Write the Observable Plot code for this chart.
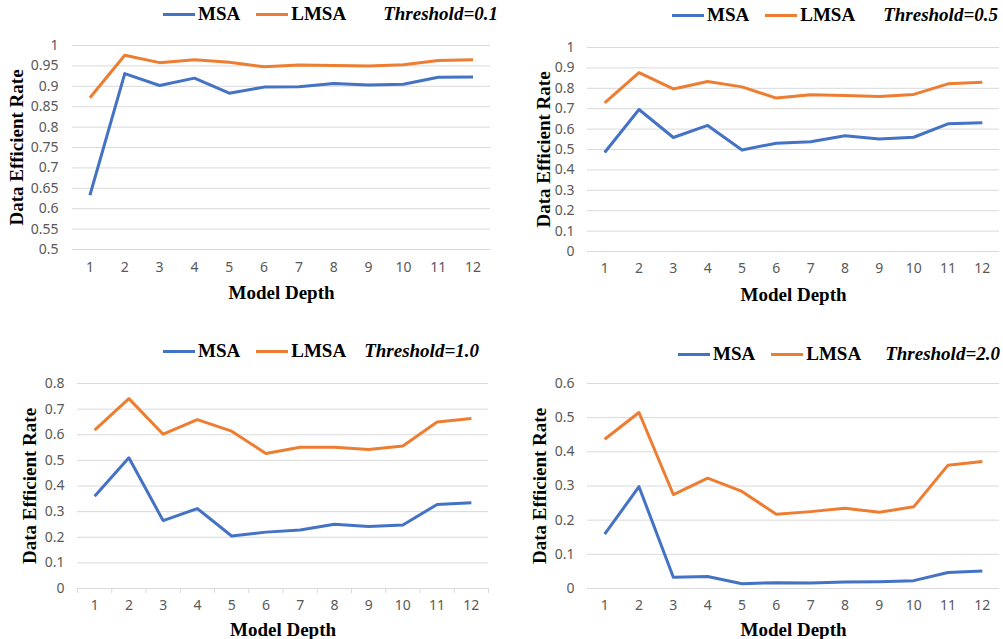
<!DOCTYPE html>
<html>
<head>
<meta charset="utf-8">
<script src="https://cdn.jsdelivr.net/npm/d3@7"></script>
<script src="https://cdn.jsdelivr.net/npm/@observablehq/plot@0.6"></script>
<style>
  html, body { margin: 0; padding: 0; background: #fff; }
  #root { position: relative; width: 1003px; height: 639px; overflow: hidden; background: #fff; }
  .panel { position: absolute; }
  .panel svg { position: absolute; left: 0; overflow: visible; }
  .legend { position: absolute; display: flex; align-items: center; height: 24px; line-height: 24px;
            font: bold 19px "Liberation Serif", "Times New Roman", serif; color: #000; white-space: nowrap; }
  .legend .sw { display: inline-block; width: 32px; height: 3px; margin-right: 3px; }
  .legend .thr { font-style: italic; }
  svg g[aria-label="y-axis label"] text, svg g[aria-label="x-axis label"] text {
    font: bold 19px "Liberation Serif", "Times New Roman", serif; fill: #000;
  }
  svg g[aria-label="y-axis tick label"], svg g[aria-label="x-axis tick label"] {
    font-family: "Noto Sans", "Liberation Sans", sans-serif; font-size: 14px; fill: #595959;
  }
</style>
</head>
<body>
<div id="root"></div>
<script>
// ---- data ----
const depths = [1, 2, 3, 4, 5, 6, 7, 8, 9, 10, 11, 12];
const seriesNames = ["MSA", "LMSA"];
const seriesColors = ["#4472C4", "#ED7D31"];
const thresholds = ["0.1", "0.5", "1.0", "2.0"];

const msa01  = [0.633, 0.931, 0.902, 0.920, 0.883, 0.898, 0.899, 0.907, 0.903, 0.905, 0.922, 0.923];
const lmsa01 = [0.872, 0.976, 0.958, 0.965, 0.959, 0.948, 0.952, 0.951, 0.950, 0.953, 0.963, 0.965];
const msa05  = [0.485, 0.696, 0.559, 0.618, 0.498, 0.531, 0.538, 0.567, 0.552, 0.560, 0.626, 0.631];
const lmsa05 = [0.729, 0.877, 0.797, 0.833, 0.807, 0.752, 0.768, 0.765, 0.760, 0.770, 0.822, 0.830];
const msa10  = [0.360, 0.510, 0.265, 0.312, 0.205, 0.220, 0.228, 0.251, 0.242, 0.248, 0.328, 0.335];
const lmsa10 = [0.618, 0.741, 0.602, 0.659, 0.614, 0.527, 0.551, 0.551, 0.542, 0.556, 0.650, 0.663];
const msa20  = [0.159, 0.298, 0.033, 0.035, 0.014, 0.017, 0.016, 0.019, 0.020, 0.023, 0.047, 0.051];
const lmsa20 = [0.437, 0.515, 0.275, 0.323, 0.284, 0.217, 0.225, 0.235, 0.223, 0.239, 0.361, 0.372];

const yTicks01 = [0.5, 0.55, 0.6, 0.65, 0.7, 0.75, 0.8, 0.85, 0.9, 0.95, 1];
const yTicks05 = [0, 0.1, 0.2, 0.3, 0.4, 0.5, 0.6, 0.7, 0.8, 0.9, 1];
const yTicks10 = [0, 0.1, 0.2, 0.3, 0.4, 0.5, 0.6, 0.7, 0.8];
const yTicks20 = [0, 0.1, 0.2, 0.3, 0.4, 0.5, 0.6];

// ---- layout ----
const panels = [
  {msa: msa01, lmsa: lmsa01, ticks: yTicks01, thr: thresholds[0], left: 0, top: 0, svgTop: 30,
   width: 500, height: 275, mt: 15, mb: 56, ml: 72, mr: 10, ylo: 63, xlo: 49, xtp: 13, ytp: 14,
   legLeft: 163, legTop: 2, thrGap: 37, axisTicks: false},
  {msa: msa05, lmsa: lmsa05, ticks: yTicks05, thr: thresholds[1], left: 500, top: 0, svgTop: 30,
   width: 503, height: 280, mt: 17, mb: 59, ml: 87, mr: 4, ylo: 51, xlo: 49, xtp: 12, ytp: 13,
   legLeft: 172, legTop: 3, thrGap: 28, axisTicks: false},
  {msa: msa10, lmsa: lmsa10, ticks: yTicks10, thr: thresholds[2], left: 0, top: 320, svgTop: 45,
   width: 500, height: 274, mt: 18, mb: 51, ml: 77, mr: 12, ylo: 55, xlo: 47, xtp: 12, ytp: 13,
   legLeft: 163, legTop: 19, thrGap: 18, axisTicks: true},
  {msa: msa20, lmsa: lmsa20, ticks: yTicks20, thr: thresholds[3], left: 500, top: 320, svgTop: 45,
   width: 503, height: 274, mt: 18, mb: 51, ml: 87, mr: 4, ylo: 55, xlo: 47, xtp: 12, ytp: 13,
   legLeft: 178, legTop: 22, thrGap: 24, axisTicks: false}
];

const fmt = d => String(+d.toFixed(2));
const root = document.getElementById("root");

for (const p of panels) {
  const div = document.createElement("div");
  div.className = "panel";
  div.style.left = p.left + "px";
  div.style.top = p.top + "px";
  div.style.width = p.width + "px";
  div.style.height = (p.svgTop + p.height) + "px";

  // legend (HTML, above the svg)
  const leg = document.createElement("div");
  leg.className = "legend";
  leg.style.left = p.legLeft + "px";
  leg.style.top = p.legTop + "px";
  seriesNames.forEach((name, i) => {
    const item = document.createElement("span");
    item.style.display = "inline-flex";
    item.style.alignItems = "center";
    if (i > 0) item.style.marginLeft = "16px";
    const sw = document.createElement("span");
    sw.className = "sw";
    sw.style.background = seriesColors[i];
    const tx = document.createElement("span");
    tx.textContent = name;
    item.appendChild(sw); item.appendChild(tx);
    leg.appendChild(item);
  });
  const thr = document.createElement("span");
  thr.className = "thr";
  thr.style.marginLeft = p.thrGap + "px";
  thr.textContent = "Threshold=" + p.thr;
  leg.appendChild(thr);
  div.appendChild(leg);

  const rows = depths.flatMap((d, i) => [
    {depth: d, series: seriesNames[0], value: p.msa[i]},
    {depth: d, series: seriesNames[1], value: p.lmsa[i]}
  ]);
  const boundaries = depths.map(d => d - 0.5).concat([depths[depths.length - 1] + 0.5]);
  const yDomain = [p.ticks[0], p.ticks[p.ticks.length - 1]];

  const marks = [
    Plot.ruleY(p.ticks, {stroke: "#d9d9d9", strokeWidth: 1}),
  ];
  if (p.axisTicks) {
    marks.push(Plot.ruleX(boundaries, {x: d => d, y1: yDomain[0], y2: yDomain[0], insetBottom: -5, stroke: "#d9d9d9", strokeWidth: 1}));
  }
  marks.push(
    Plot.axisY(p.ticks, {tickSize: 0, tickPadding: p.ytp, tickFormat: fmt,
      label: "Data Efficient Rate", labelAnchor: "center", labelOffset: p.ylo, labelArrow: "none"}),
    Plot.axisX(depths, {tickSize: 0, tickPadding: p.xtp, tickFormat: d => String(d),
      label: "Model Depth", labelAnchor: "center", labelOffset: p.xlo, labelArrow: "none"}),
    Plot.line(rows, {x: "depth", y: "value", stroke: "series", z: "series", strokeWidth: 3,
      strokeLinejoin: "round", strokeLinecap: "butt"})
  );

  const svg = Plot.plot({
    width: p.width,
    height: p.height,
    marginTop: p.mt,
    marginBottom: p.mb,
    marginLeft: p.ml,
    marginRight: p.mr,
    style: {background: "transparent", overflow: "visible"},
    x: {type: "linear", domain: [0.5, 12.5]},
    y: {type: "linear", domain: yDomain},
    color: {domain: seriesNames, range: seriesColors},
    marks
  });
  svg.style.top = p.svgTop + "px";
  div.appendChild(svg);
  root.appendChild(div);
}
</script>
</body>
</html>
